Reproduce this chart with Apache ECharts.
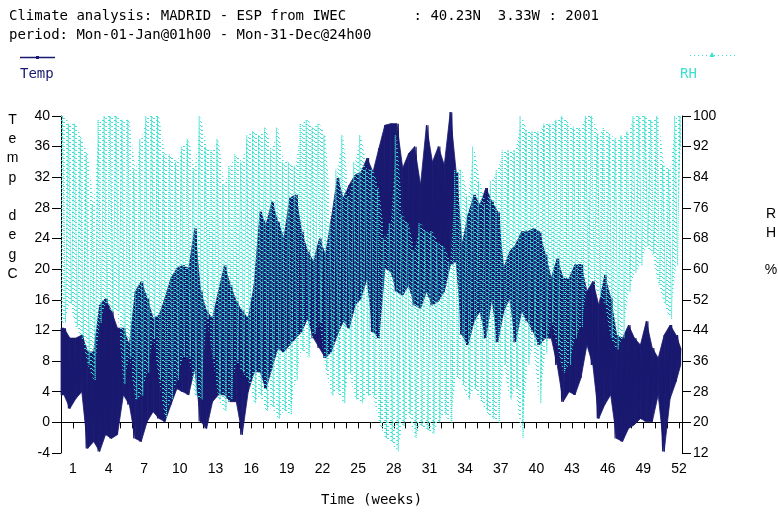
<!DOCTYPE html>
<html><head><meta charset="utf-8">
<script src="https://cdn.jsdelivr.net/npm/echarts@6/dist/echarts.min.js"></script>
<style>html,body{margin:0;padding:0;background:#fff}#c{width:778px;height:513px}</style>
</head><body><div id="c"></div>
<script>
// ---- tick labels ----
const weekTicks = [1,2,3,4,5,6,7,8,9,10,11,12,13,14,15,16,17,18,19,20,21,22,23,24,25,26,27,28,29,30,31,32,33,34,35,36,37,38,39,40,41,42,43,44,45,46,47,48,49,50,51,52];
const weekLabels = [1,4,7,10,13,16,19,22,25,28,31,34,37,40,43,46,49,52];
const tempTicks = [-4,0,4,8,12,16,20,24,28,32,36,40];
const rhTicks = [12,20,28,36,44,52,60,68,76,84,92,100];

// ---- series values: half-week envelopes (min / max) ----
const tempHigh = [12.3,11.0,11.0,11.4,9.2,9.2,15.3,16.2,14.5,12.3,12.3,10.1,17.1,18.4,16.2,13.6,14.0,16.2,18.8,20.1,20.5,20.1,25.3,17.1,14.5,13.6,
  17.1,20.5,17.9,15.8,14.5,13.6,17.9,27.5,25.8,28.8,26.2,24.0,29.3,29.7,24.9,22.3,21.0,24.0,21.9,26.6,31.9,29.3,31.0,32.3,32.7,34.5,
  32.7,35.8,38.8,39.0,39.0,33.2,35.1,36.0,31.0,38.8,34.0,36.0,33.6,40.5,32.7,23.2,27.1,29.7,28.4,30.6,28.8,27.5,20.1,22.3,23.2,24.9,
  24.9,25.3,24.9,21.9,18.8,21.4,18.8,18.8,20.6,20.6,17.1,18.4,15.3,19.2,16.2,11.4,11.0,12.7,11.0,10.1,13.2,9.7,8.4,11.4,12.7,11.4,9.7];
const tempLow = [3.6,1.8,3.1,4.0,-3.4,-2.5,-3.8,-1.6,-2.1,-1.6,3.6,2.3,-2.1,-2.5,0.1,1.4,0.5,0.1,2.3,4.4,4.0,3.6,7.1,0.1,-0.8,2.7,
  3.6,3.6,2.7,2.7,-1.6,4.0,6.6,6.6,4.4,7.1,9.7,9.2,10.1,11.0,11.8,13.6,11.0,9.7,8.4,9.2,11.4,13.2,12.3,15.3,16.2,18.8,
  11.8,11.0,20.1,19.7,17.1,16.6,17.9,15.3,14.9,17.1,15.3,15.8,17.1,20.5,21.0,11.4,10.1,13.2,14.5,11.0,16.2,10.5,14.5,16.2,10.5,14.5,
  13.2,11.8,10.1,11.0,11.0,7.5,2.7,4.0,3.6,5.8,10.1,7.5,0.5,2.3,3.6,-2.1,-2.5,-0.8,-0.3,0.5,0.1,0.1,3.6,-3.8,3.1,5.3,7.5];
const rhHigh = [100,98,98,94,90,77,99,100,100,100,99,99,86,94,100,100,100,90,90,88,92,94,86,100,92,91,
  94,82,87,90,88,95,96,95,97,91,97,88,88,87,98,99,97,98,95,72,86,95,79,88,95,86,
  86,81,68,72,95,74,72,65,72,70,70,67,66,62,86,86,79,92,83,77,83,86,91,91,91,100,
  96,96,96,98,98,99,100,98,97,97,100,100,95,97,95,94,95,96,100,100,100,99,100,87,86,100,100];
const rhLow = [46,51,45,42,35,31,46,51,49,49,30,37,26,27,33,42,31,21,26,31,37,37,27,26,47,37,
  26,23,26,36,33,31,25,27,23,24,21,23,22,31,39,37,43,46,34,27,28,25,33,26,25,27,
  27,20,16,15,12.4,19,22,16,19,18,17,20,22,20,32,30,26,29,26,23,21,20,35,26,29,16,
  35,40,25,38,46,40,33,35,42,45,55,57,53,51,42,39,42,54,59,61,66,64,56,51,47,61,92];

const STEP = 0.5, TEND = 52.14;
function tAt(i, n) { return i === n - 1 ? TEND : i * STEP + STEP / 2; }
function rows(lo, hi) { return lo.map((v, i) => [tAt(i, lo.length), v, hi[i]]); }
function zig(a, b) {
  const out = [];
  for (let i = 0; i < a.length; i++) {
    const t0 = i * STEP;
    out.push([Math.min(t0 + 0.125, TEND - 0.06), a[i]]);
    out.push([Math.min(t0 + 0.375, TEND), b[i]]);
  }
  return out;
}
function bandRenderer(rowsArr, style) {
  return function (params, api) {
    const i = params.dataIndex;
    const cur = rowsArr[i];
    const prev = i === 0 ? [0, cur[1], cur[2]] : null;
    const polys = [];
    const quad = (a, b) => [api.coord([a[0], a[1]]), api.coord([a[0], a[2]]), api.coord([b[0], b[2]]), api.coord([b[0], b[1]])];
    if (prev) polys.push(quad(prev, cur));
    if (i < rowsArr.length - 1) polys.push(quad(cur, rowsArr[i + 1]));
    return {type: 'group', children: polys.map(p => ({type: 'polygon', shape: {points: p}, style: style, silent: true}))};
  };
}

const NAVY = '#191970', CYAN = '#40e0d0';
const MONO = "'DejaVu Sans Mono', monospace";
const SANS = "'Liberation Sans', Arial, sans-serif";

// sparse dotted texture for RH band
const pat = document.createElement('canvas');
pat.width = 6; pat.height = 4;
const pc = pat.getContext('2d');
pc.fillStyle = CYAN;
[[0,0],[1,0],[3,2],[4,2],[2,1]].forEach(([x, y]) => pc.fillRect(x, y, 1, 1));

const tempRows = rows(tempLow, tempHigh);
const rhRows = rows(rhLow, rhHigh);

const chart = echarts.init(document.getElementById('c'), null, {renderer: 'canvas'});
chart.setOption({
  animation: false,
  backgroundColor: '#fff',
  grid: {left: 61, right: 96, top: 116, bottom: 60},
  xAxis: {
    type: 'value', min: 0, max: 52.25,
    name: 'Time (weeks)', nameLocation: 'middle', nameGap: 40,
    nameTextStyle: {fontFamily: MONO, fontSize: 14, color: '#000'},
    axisLine: {lineStyle: {color: '#000', width: 1}},
    axisTick: {length: 6, lineStyle: {color: '#000'}, customValues: weekTicks},
    axisLabel: {customValues: weekLabels, margin: 9, fontFamily: SANS, fontSize: 14, color: '#000'},
    splitLine: {show: false}
  },
  yAxis: [{
    type: 'value', min: -4, max: 40, interval: 4, position: 'left',
    axisLine: {show: true, lineStyle: {color: '#000'}},
    axisTick: {show: true, length: 9, lineStyle: {color: '#000'}},
    axisLabel: {margin: 11, fontFamily: SANS, fontSize: 14, color: '#000'},
    splitLine: {show: false}
  }, {
    type: 'value', min: 12, max: 100, position: 'right',
    axisLine: {show: true, lineStyle: {color: '#000'}},
    axisTick: {show: true, length: 9, lineStyle: {color: '#000'}, customValues: rhTicks},
    axisLabel: {customValues: rhTicks, margin: 11, fontFamily: SANS, fontSize: 14, color: '#000'},
    splitLine: {show: false}
  }],
  series: [{
    name: 'Temp', type: 'custom', yAxisIndex: 0, data: tempRows, clip: false,
    renderItem: bandRenderer(tempRows, {fill: NAVY, stroke: NAVY, lineWidth: 0.8}),
    encode: {x: 0, y: [1, 2]}, z: 2
  }, {
    name: 'Temp spikes', type: 'line', yAxisIndex: 0, data: zig(tempLow, tempHigh),
    showSymbol: false, clip: false, z: 2,
    lineStyle: {color: NAVY, width: 1.2}
  }, {
    name: 'RH', type: 'custom', yAxisIndex: 1, data: rhRows,
    renderItem: bandRenderer(rhRows, {fill: {image: pat, repeat: 'repeat'}}),
    encode: {x: 0, y: [1, 2]}, z: 3
  }, {
    name: 'RH spikes', type: 'line', yAxisIndex: 1, data: zig(rhHigh, rhLow),
    showSymbol: false, z: 3,
    lineStyle: {color: CYAN, width: 1, type: 'dotted'}
  }],
  graphic: [
    {type: 'text', x: 9, y: 16, style: {text: 'Climate analysis: MADRID - ESP from IWEC        : 40.23N  3.33W : 2001', font: '14px ' + MONO, fill: '#000', verticalAlign: 'middle'}},
    {type: 'text', x: 9, y: 35, style: {text: 'period: Mon-01-Jan@01h00 - Mon-31-Dec@24h00', font: '14px ' + MONO, fill: '#000', verticalAlign: 'middle'}},
    {type: 'line', shape: {x1: 20, y1: 57.5, x2: 55, y2: 57.5}, style: {stroke: NAVY, lineWidth: 1.5}},
    {type: 'rect', shape: {x: 36, y: 56, width: 3, height: 3}, style: {fill: NAVY}},
    {type: 'text', x: 20, y: 74, style: {text: 'Temp', font: '14px ' + MONO, fill: NAVY, verticalAlign: 'middle'}},
    {type: 'line', shape: {x1: 690, y1: 55.5, x2: 735, y2: 55.5}, style: {stroke: CYAN, lineWidth: 1, lineDash: [1, 3]}},
    {type: 'polygon', shape: {points: [[712, 52], [709.5, 57], [714.5, 57]]}, style: {fill: CYAN}},
    {type: 'text', x: 680, y: 74, style: {text: 'RH', font: '14px ' + MONO, fill: CYAN, verticalAlign: 'middle'}},
    {type: 'text', x: 12.5, y: 197, style: {text: 'T\ne\nm\np\n\nd\ne\ng\nC', font: '14px ' + SANS, fill: '#000', align: 'center', verticalAlign: 'middle', lineHeight: 19.3}},
    {type: 'text', x: 771, y: 242, style: {text: 'R\nH\n\n%', font: '14px ' + SANS, fill: '#000', align: 'center', verticalAlign: 'middle', lineHeight: 18.5}}
  ]
});
</script>
</body></html>
